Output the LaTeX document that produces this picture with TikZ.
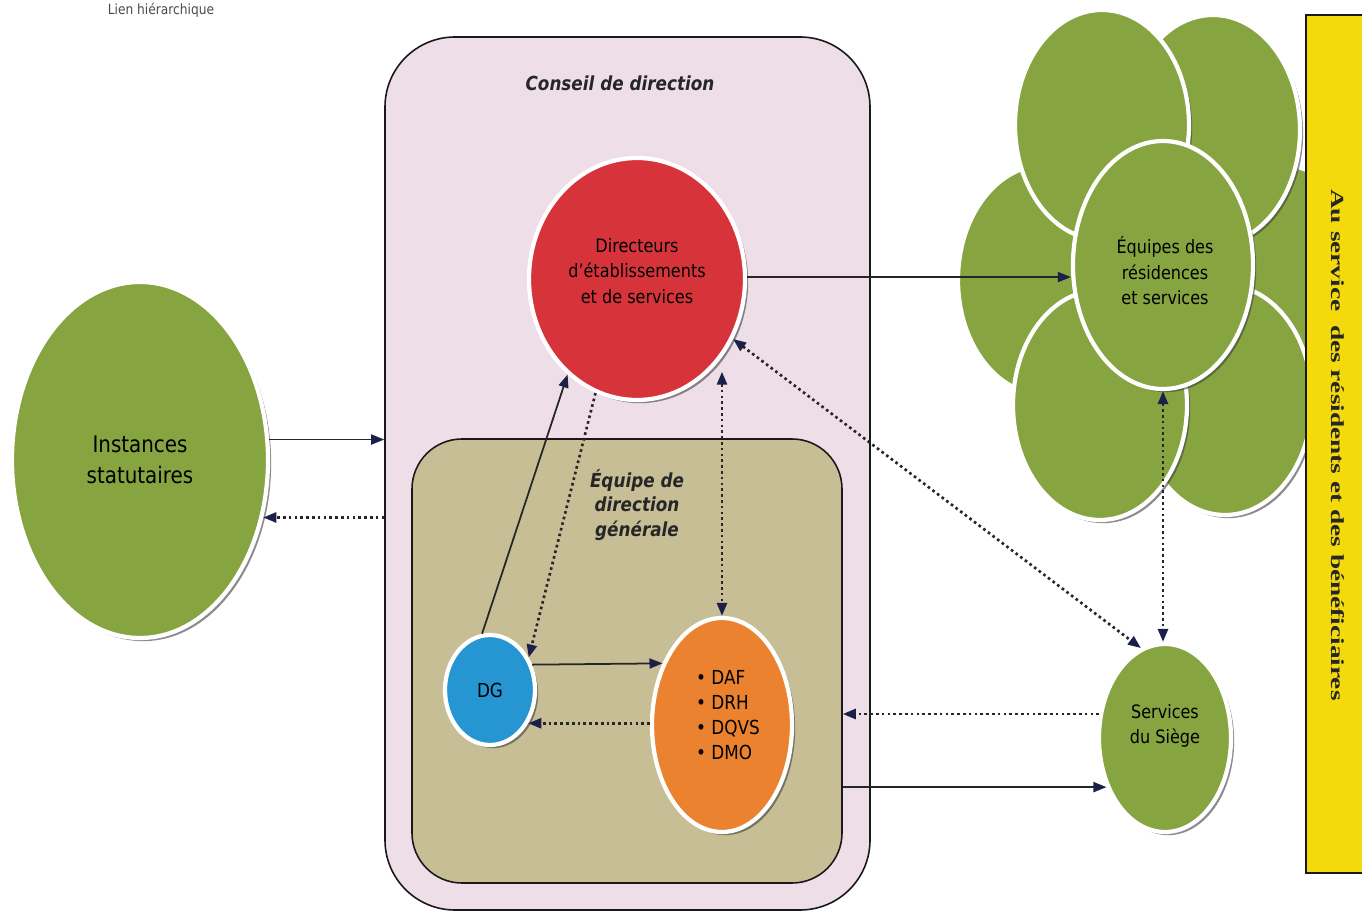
\documentclass[tikz,border=0pt]{standalone}
\usepackage{fontspec}
\setmainfont{DejaVu Sans}[FakeStretch=0.87]
\newfontfamily\bandefont{Liberation Serif}
\usetikzlibrary{shapes.geometric,arrows.meta,shadows}

\definecolor{vert}{RGB}{134,164,64}
\definecolor{rouge}{RGB}{214,52,58}
\definecolor{bleu}{RGB}{38,150,210}
\definecolor{orangec}{RGB}{234,130,48}
\definecolor{rose}{RGB}{238,222,232}
\definecolor{beige}{RGB}{200,190,150}
\definecolor{jaune}{RGB}{244,218,10}
\definecolor{marine}{RGB}{28,32,72}

\begin{document}
\begin{tikzpicture}[x=0.2mm, y=-0.2mm,
  bulle/.style={ellipse, draw=white, line width=2.4pt, inner sep=0pt, align=center,
    drop shadow={shadow xshift=1.8pt, shadow yshift=-1.8pt, fill=black!75, opacity=.6},
    font=\fontsize{10.5}{14.5}\selectfont},
  texte/.style={align=center, font=\fontsize{10.5}{14.5}\selectfont},
  cadre/.style={rectangle, draw=black!90, line width=0.9pt},
  titre/.style={align=center, text=black!85, font=\fontsize{11}{13.9}\selectfont\bfseries\itshape},
  lien/.style={draw=black!85, line width=1pt, -{Triangle[length=2.6mm,width=2mm,color=marine]}},
  info/.style={draw=black!85, line width=1.5pt, dash pattern=on 1.5pt off 1.8pt,
    -{Triangle[length=2.6mm,width=2mm,color=marine]}},
  infob/.style={info, {Triangle[length=2.6mm,width=2mm,color=marine]}-{Triangle[length=2.6mm,width=2mm,color=marine]}}
]
\fill[white, use as bounding box] (0,0) rectangle (1362,911);

\node[font=\fontsize{8}{9}\selectfont, anchor=north, inner sep=1pt, text=black!70] (lien) at (161,1) {Lien hiérarchique};

% Conseil de direction
\node[cadre, fill=rose, minimum width=97mm, minimum height=174.6mm, rounded corners=14mm] (cd) at (627.5,473.5) {};
\node[titre] (cdt) at (620,83) {Conseil de direction};

% Equipe de direction generale
\node[cadre, fill=beige, minimum width=86mm, minimum height=88.8mm, rounded corners=10mm] (edg) at (627,661) {};
\node[titre] (edgt) at (637,505) {Équipe de\\direction\\générale};

% bulles
\node[bulle, fill=vert, minimum width=51.2mm, minimum height=71.2mm, font=\fontsize{13}{17.6}\selectfont] (inst) at (140,460) {Instances\\statutaires};
\node[bulle, fill=rouge, minimum width=43.2mm, minimum height=48.4mm] (dir) at (637,279) {};
\node[texte] (dirt) at (637,271) {Directeurs\\d'établissements\\et de services};
\node[bulle, fill=bleu, minimum width=18mm, minimum height=22mm, font=\fontsize{11}{14}\selectfont] (dg) at (490,690) {DG};
\node[bulle, fill=orangec, minimum width=28mm, minimum height=42.8mm] (dsg) at (722,725) {};
\node[texte, align=left, font=\fontsize{11}{14.2}\selectfont] (dsgt) at (728,715)
  {\textbullet\ DAF\\\textbullet\ DRH\\\textbullet\ DQVS\\\textbullet\ DMO};

% petales des residences
\foreach \nom/\px/\py in {pd/1281/280, pg/1045/280, phd/1213/130, phg/1102/125, pbd/1225/400, pbg/1100/405} {
  \node[bulle, fill=vert, minimum width=34.8mm, minimum height=46mm] (\nom) at (\px,\py) {};
}
\node[bulle, fill=vert, minimum width=36mm, minimum height=49.6mm] (eq) at (1163,265) {};
\node[texte] (eqt) at (1165,271) {Équipes des\\résidences\\et services};
\node[bulle, fill=vert, minimum width=26.4mm, minimum height=37.6mm] (sieg) at (1165,738) {};
\node[texte] (siegt) at (1165,726) {Services\\du Siège};

% bande
\node[cadre, fill=jaune, minimum width=14mm, minimum height=171.6mm, anchor=north west] (bande) at (1305,14) {};
\node[rotate=-90, font=\bandefont\bfseries\fontsize{10.5}{12}\selectfont, text=black!85] (bandet) at (1338,445)
  {\scalebox{1.48}[1]{Au service~~des résidents et des bénéficiaires}};

% liens
\draw[lien] (inst.9) -- (inst.9 -| cd.west);
\draw[info] (inst.-25 -| cd.west) -- (inst.-25);
\draw[lien] (dir.1) -- (dir.1 -| eq.west);
\draw[lien] (dg.98) -- (dir.234);
\draw[info] (dir.250) -- (dg.40);
\draw[infob] (dsg.north |- dir.-52) -- (dsg.north);
\draw[infob] (dir.-32) -- (sieg.105);
\draw[infob] (eq.south) -- (eq.south |- sieg.north);
\draw[lien] (dg.31) -- (dsg.134);
\draw[info] (dsg.west |- dg.-41) -- (dg.-41);
\draw[info] (sieg.160) -- (sieg.160 -| edg.east);
\draw[lien] (sieg.220 -| edg.east) -- (sieg.220);
\end{tikzpicture}
\end{document}
